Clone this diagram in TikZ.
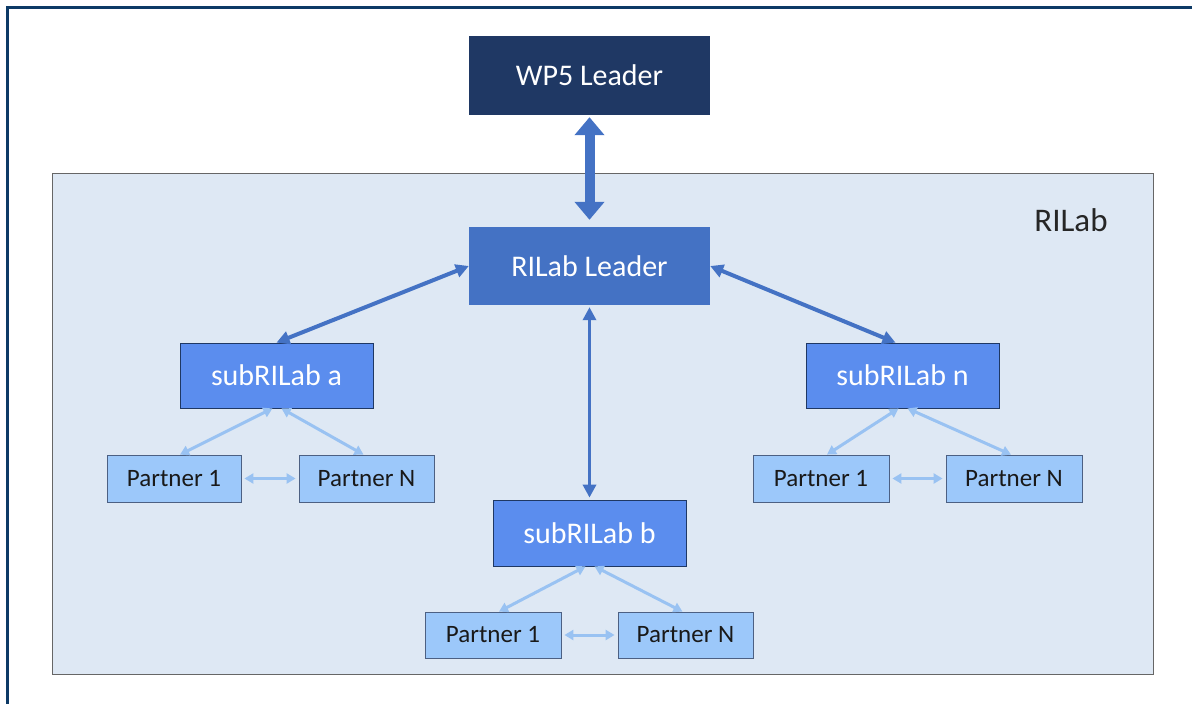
\documentclass[tikz,border=0pt]{standalone}
\usepackage{fontspec}
\setmainfont{Carlito}
\usetikzlibrary{arrows.meta}
\definecolor{navy}{HTML}{1F3864}
\definecolor{frame}{HTML}{0D3A66}
\definecolor{leadblue}{HTML}{4472C4}
\definecolor{subblue}{HTML}{5B8DEE}
\definecolor{partblue}{HTML}{9CC8FA}
\definecolor{labfill}{HTML}{DEE8F4}
\definecolor{lightarrow}{HTML}{99C2F2}
\begin{document}
\begin{tikzpicture}[x=1pt,y=-1pt]
\tikzstyle{every node}+=[inner sep=0pt]
\tikzstyle{leadbox}=[minimum width=241pt,minimum height=79pt,text=white,font=\fontsize{30}{36}\selectfont]
\tikzstyle{subbox}=[fill=subblue,draw=navy,line width=0.8pt,minimum width=193pt,minimum height=65pt,text=white,font=\fontsize{30}{36}\selectfont]
\tikzstyle{partbox}=[fill=partblue,draw=navy!80,line width=0.8pt,minimum width=135pt,minimum height=47pt,text=black!90,font=\fontsize{25}{30}\selectfont]
\tikzstyle{bigarrow}=[leadblue,line width=4pt,{Triangle[width=13pt,length=13pt]}-{Triangle[width=13pt,length=13pt]}]
\tikzstyle{smallarrow}=[lightarrow,line width=3pt,{Triangle[width=10pt,length=9pt]}-{Triangle[width=10pt,length=9pt]}]
\useasboundingbox (0,0) rectangle (1192,704);
\draw [frame,line width=3pt] (7,7) rectangle (1210,720);
% RILab area
\draw [fill=labfill,draw=black!60,line width=1pt] (52,173) rectangle (1153,674);
\node (lab) at (1071,220) [text=black!85,font=\fontsize{33}{40}\selectfont] {RILab};
% leaders
\node (wp5) at (589.5,75.5) [leadbox,fill=navy] {WP5 Leader};
\node (leader) at (589.5,266) [leadbox,fill=leadblue,minimum height=78pt] {RILab Leader};
% subRILabs
\node (suba) at (276.5,375.5) [subbox] {subRILab a};
\node (subb) at (589.5,533) [subbox,minimum height=66pt] {subRILab b};
\node (subn) at (902.5,375.5) [subbox] {subRILab n};
% partners
\node (pa1) at (174,478.5) [partbox,minimum width=134pt] {Partner 1};
\node (paN) at (366.5,478.5) [partbox] {Partner N};
\node (pb1) at (493,635) [partbox,minimum width=136pt,minimum height=46pt] {Partner 1};
\node (pbN) at (685.5,635) [partbox,minimum height=46pt] {Partner N};
\node (pn1) at (821,478.5) [partbox,minimum width=136pt] {Partner 1};
\node (pnN) at (1014,478.5) [partbox,minimum width=136pt] {Partner N};
% arrows
\draw [leadblue,line width=10pt,{Triangle[width=29pt,length=18pt]}-{Triangle[width=29pt,length=18pt]}] ([yshift=-2pt]wp5.south) -- ([yshift=7pt]leader.north);
\draw [bigarrow] (leader.west) -- (suba.north);
\draw [bigarrow] (leader.east) -- ([xshift=-7pt]subn.north);
\draw [bigarrow,line width=3.5pt] ([yshift=-2pt]leader.south) -- ([yshift=2pt]subb.north);
\draw [smallarrow] ([xshift=-4pt]suba.south) -- ([xshift=6pt]pa1.north);
\draw [smallarrow] ([xshift=5pt]suba.south) -- ([xshift=-3pt]paN.north);
\draw [smallarrow] ([xshift=3pt]pa1.east) -- ([xshift=-3pt]paN.west);
\draw [smallarrow] ([xshift=-4pt]subb.south) -- ([xshift=6pt]pb1.north);
\draw [smallarrow] ([xshift=5pt]subb.south) -- ([xshift=-3pt]pbN.north);
\draw [smallarrow] ([xshift=3pt]pb1.east) -- ([xshift=-3pt]pbN.west);
\draw [smallarrow] ([xshift=-4pt]subn.south) -- ([xshift=6pt]pn1.north);
\draw [smallarrow] ([xshift=5pt]subn.south) -- ([xshift=-3pt]pnN.north);
\draw [smallarrow] ([xshift=3pt]pn1.east) -- ([xshift=-3pt]pnN.west);
\end{tikzpicture}
\end{document}
